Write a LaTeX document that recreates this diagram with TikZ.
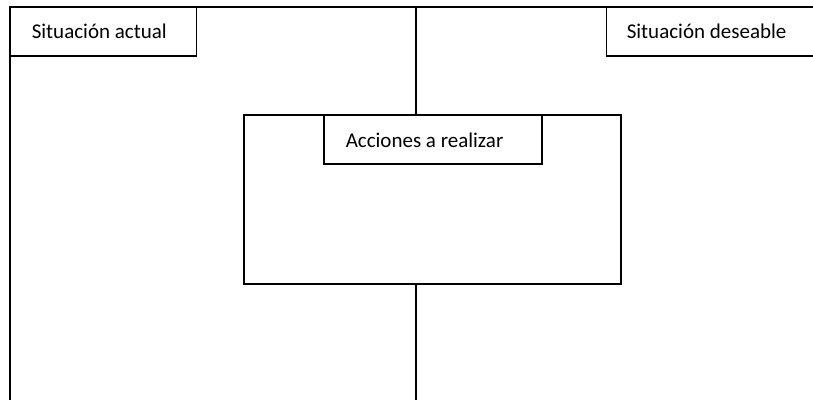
\documentclass[tikz,border=0pt]{standalone}
\usepackage{fontspec}
\setmainfont{Carlito}
\begin{document}
\begin{tikzpicture}[x=1pt,y=-1pt,line width=1.5pt,
  box/.style={draw,rectangle,inner sep=0pt,outer sep=0pt,anchor=north west},
  lbl/.style={font=\fontsize{21}{25}\selectfont,anchor=west,inner sep=0pt}]
\useasboundingbox (0,0) rectangle (813,400);
\clip (0,0) rectangle (813,400);
% boxes
\node[box,minimum width=186.5pt,minimum height=49pt] (sa) at (10,7) {};
\node[box,minimum width=220pt,minimum height=49pt] (sd) at (606.5,7) {};
\node[box,minimum width=377pt,minimum height=169pt] (cb) at (244,115) {};
\node[box,minimum width=218pt,minimum height=49pt] (ab) at (324,115) {};
% labels
\node[lbl] (tsa) at (31,31.5) {Situación actual};
\node[lbl] (tsd) at (626,31.5) {Situación deseable};
\node[lbl] (tab) at (345,140) {Acciones a realizar};
% free ends
\coordinate (tr) at (813,7);
\coordinate (bl) at (10,400);
\coordinate (tc) at (416,7);
\coordinate (bc) at (416,400);
% connectors
\draw (sa.north west) -- (tr);
\draw (sa.north west) -- (bl);
\draw (tc) -- (tc |- cb.north);
\draw (tc |- cb.south) -- (bc);
\end{tikzpicture}
\end{document}
